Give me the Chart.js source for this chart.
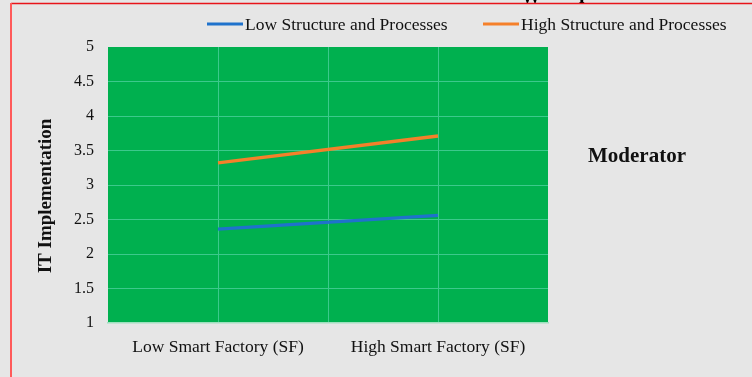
<!DOCTYPE html>
<html>
<head>
<meta charset="utf-8">
<script src="https://cdn.jsdelivr.net/npm/chart.js@4.4.1/dist/chart.umd.min.js"></script>
<style>
  html, body { margin: 0; padding: 0; background: #e6e6e6; }
  #wrap { width: 752px; height: 377px; position: relative; }
</style>
</head>
<body>
<div id="wrap"><canvas id="c" width="752" height="377"></canvas></div>
<script>
// Category labels along the x axis (placed at slots 1 and 3 of a 0..4 axis)
const categories = ['Low Smart Factory (SF)', 'High Smart Factory (SF)'];
const categorySlots = [1, 3];

// Series
const seriesNames = ['Low Structure and Processes', 'High Structure and Processes'];
const lowStructure = [2.36, 2.56];
const highStructure = [3.32, 3.71];

// Y axis ticks
const yTicks = [1, 1.5, 2, 2.5, 3, 3.5, 4, 4.5, 5];
const yTitle = 'IT Implementation';

const seriesColors = ['#1f72cc', '#f5802a'];
const SERIF = '"Liberation Serif", "Times New Roman", serif';

function toPoints(vals) {
  return vals.map((v, i) => ({ x: categorySlots[i], y: v }));
}

const decorPlugin = {
  id: 'decor',
  beforeDraw(chart) {
    const { ctx, chartArea: a } = chart;
    ctx.save();
    ctx.fillStyle = '#e6e6e6';
    ctx.fillRect(0, 0, chart.width, chart.height);
    ctx.fillStyle = '#00b04f';
    ctx.fillRect(a.left, a.top, a.right - a.left, a.bottom - a.top);
    ctx.restore();
  },
  afterDraw(chart) {
    const { ctx } = chart;
    ctx.save();
    // heading glyphs cut off by the frame
    ctx.fillStyle = '#000';
    ctx.font = 'bold 20px ' + SERIF;
    ctx.textBaseline = 'alphabetic';
    ctx.fillText('W', 521, 3);
    ctx.fillText('l', 579, 3);
    ctx.fillStyle = '#e6e6e6';
    ctx.fillRect(0, 3, chart.width, 3);
    // frame
    ctx.strokeStyle = '#e8141a';
    ctx.lineWidth = 1.5;
    ctx.beginPath(); ctx.moveTo(11, 3.5); ctx.lineTo(chart.width, 3.5); ctx.stroke();
    ctx.strokeStyle = '#ff5a5a';
    ctx.lineWidth = 2;
    ctx.beginPath(); ctx.moveTo(11, 3); ctx.lineTo(11, chart.height); ctx.stroke();

    // legend
    ctx.font = '17.5px ' + SERIF;
    ctx.textBaseline = 'middle';
    ctx.fillStyle = '#111';
    const legendY = 24;
    const starts = [207, 483];
    chart.data.datasets.forEach((ds, i) => {
      const x0 = starts[i];
      ctx.strokeStyle = ds.borderColor;
      ctx.lineWidth = 3;
      ctx.beginPath(); ctx.moveTo(x0, legendY); ctx.lineTo(x0 + 36, legendY); ctx.stroke();
      ctx.fillText(ds.label, x0 + 38, legendY + 1);
    });

    // moderator label
    ctx.font = 'bold 21px ' + SERIF;
    ctx.fillText('Moderator', 588, 157);

    // y axis title
    ctx.translate(46, 196);
    ctx.rotate(-Math.PI / 2);
    ctx.textAlign = 'center';
    ctx.font = 'bold 19px ' + SERIF;
    ctx.fillText(yTitle, 0, 0);
    ctx.restore();
  }
};

new Chart(document.getElementById('c'), {
  type: 'line',
  data: {
    datasets: [
      { label: seriesNames[0], data: toPoints(lowStructure), borderColor: seriesColors[0], backgroundColor: seriesColors[0], borderWidth: 3.3, pointRadius: 0, tension: 0 },
      { label: seriesNames[1], data: toPoints(highStructure), borderColor: seriesColors[1], backgroundColor: seriesColors[1], borderWidth: 3.3, pointRadius: 0, tension: 0 }
    ]
  },
  options: {
    responsive: false,
    animation: false,
    events: [],
    layout: { padding: { top: 47, right: 204, left: 0, bottom: 0 } },
    plugins: { legend: { display: false }, tooltip: { enabled: false } },
    scales: {
      x: {
        type: 'linear', min: 0, max: 4,
        afterFit(s) { s.height = 54; },
        ticks: {
          stepSize: 1, padding: 14, color: '#111', maxRotation: 0, autoSkip: false,
          font: { family: SERIF, size: 17.5 },
          callback(v) { const k = categorySlots.indexOf(v); return k >= 0 ? categories[k] : ''; }
        },
        grid: {
          drawTicks: false,
          color(c) { return (c.tick && (c.tick.value === 0 || c.tick.value === 4)) ? 'rgba(0,0,0,0)' : '#3cc98c'; }
        },
        border: { display: true, color: '#9fe0bf', width: 1.5 }
      },
      y: {
        min: 1, max: 5,
        afterBuildTicks(s) { s.ticks = yTicks.map(v => ({ value: v })); },
        afterFit(s) { s.width = 108; },
        ticks: {
          padding: 14, color: '#111',
          font: { family: SERIF, size: 16 },
          callback(v) { return String(v); }
        },
        grid: {
          drawTicks: false,
          color(c) { return (c.tick && (c.tick.value === 5 || c.tick.value === 1)) ? 'rgba(0,0,0,0)' : '#3cc98c'; }
        },
        border: { display: false }
      }
    }
  },
  plugins: [decorPlugin]
});
</script>
</body>
</html>
